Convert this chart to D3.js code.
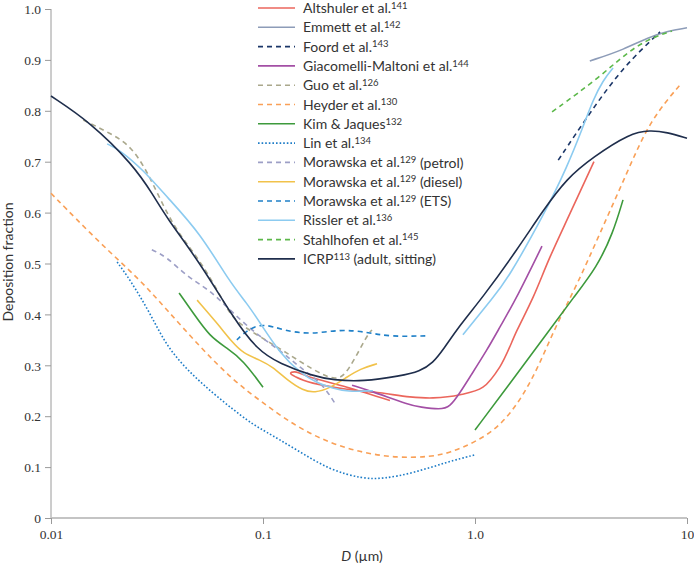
<!DOCTYPE html>
<html>
<head>
<meta charset="utf-8">
<script src="https://cdn.jsdelivr.net/npm/d3@7"></script>
<style>
  body { margin: 0; background: #fff; }
  svg { display: block; }
  .tick-label { font-family: "Liberation Serif", serif; font-size: 13.5px; fill: #333; }
  .legend text, .axis-title { font-family: Lato, "Open Sans", sans-serif; font-size: 14px; fill: #333; }
</style>
</head>
<body>
<svg id="svg"></svg>
<script>

const width = 694;
const height = 566;

// [diameter in µm, deposition fraction]
const altshuler = [[0.397,0.231],[0.249,0.257],[0.172,0.275],[0.141,0.287],[0.135,0.284],[0.143,0.277],[0.172,0.265],[0.249,0.253],[0.356,0.246],[0.493,0.238],[0.634,0.236],[0.849,0.242],[1.09,0.257],[1.31,0.297],[1.58,0.369],[1.88,0.434],[2.26,0.513],[2.81,0.599],[3.64,0.70]];
const emmett = [[3.48,0.898],[4.99,0.919],[7.2,0.953],[10,0.963]];
const foord = [[2.47,0.703],[3.48,0.796],[4.99,0.886],[7.46,0.955]];
const giacomelli = [[0.263,0.261],[0.33,0.248],[0.493,0.222],[0.55,0.218],[0.684,0.213],[0.762,0.218],[0.849,0.246],[0.946,0.277],[1.14,0.33],[1.31,0.375],[1.58,0.434],[2.07,0.534]];
const guo = [[0.0142,0.782],[0.019,0.756],[0.0244,0.729],[0.0303,0.658],[0.0376,0.572],[0.0505,0.507],[0.0647,0.428],[0.072,0.389],[0.097,0.356],[0.13,0.324],[0.172,0.291],[0.223,0.268],[0.252,0.287],[0.313,0.363],[0.327,0.369]];
const heyder = [[0.01,0.638],[0.017,0.54],[0.0263,0.468],[0.0352,0.409],[0.0505,0.336],[0.072,0.271],[0.1,0.226],[0.144,0.179],[0.207,0.147],[0.296,0.128],[0.428,0.118],[0.614,0.12],[0.762,0.128],[1.0,0.149],[1.31,0.179],[1.68,0.238],[2.03,0.305],[2.44,0.383],[3.03,0.458],[3.89,0.56],[5.21,0.678],[6.69,0.782],[9.46,0.855]];
const kimJaques1 = [[0.0402,0.442],[0.0468,0.403],[0.0562,0.356],[0.0676,0.334],[0.0806,0.31],[0.1,0.257]];
const kimJaques2 = [[1.0,0.173],[1.58,0.283],[2.26,0.371],[2.9,0.432],[3.76,0.493],[4.48,0.56],[4.99,0.625]];
const lin = [[0.0205,0.503],[0.0236,0.468],[0.0293,0.403],[0.0352,0.336],[0.0453,0.285],[0.0607,0.238],[0.0869,0.187],[0.1,0.173],[0.144,0.134],[0.207,0.094],[0.296,0.077],[0.368,0.077],[0.51,0.088],[0.738,0.11],[1.0,0.124]];
const morawskaPetrol = [[0.0299,0.527],[0.0352,0.513],[0.0438,0.474],[0.0562,0.448],[0.072,0.403],[0.0938,0.36],[0.12,0.33],[0.15,0.295],[0.19,0.265],[0.221,0.222]];
const morawskaDiesel = [[0.0489,0.428],[0.0607,0.383],[0.072,0.344],[0.0805,0.324],[0.097,0.31],[0.111,0.297],[0.13,0.271],[0.155,0.25],[0.175,0.246],[0.207,0.255],[0.249,0.277],[0.287,0.293],[0.345,0.303]];
const morawskaETS = [[0.0753,0.35],[0.084,0.369],[0.1,0.383],[0.124,0.369],[0.167,0.36],[0.231,0.371],[0.31,0.365],[0.397,0.356],[0.594,0.358]];
const rissler1 = [[0.0184,0.735],[0.0211,0.723],[0.0272,0.684],[0.0352,0.631],[0.0505,0.56],[0.07,0.462],[0.084,0.422],[0.097,0.383],[0.12,0.324],[0.15,0.285],[0.18,0.265],[0.214,0.255],[0.249,0.248],[0.33,0.25]];
const rissler2 = [[0.877,0.36],[1.22,0.434],[1.42,0.468],[2.14,0.6],[2.72,0.69],[3.23,0.768],[3.6,0.821],[4.02,0.86],[4.48,0.884]];
const stahlhofen = [[2.31,0.798],[3.89,0.866],[5.81,0.933],[8.49,0.957]];
const icrp = [[0.01,0.829],[0.0153,0.778],[0.0244,0.694],[0.0303,0.635],[0.0352,0.589],[0.0505,0.501],[0.072,0.395],[0.0938,0.33],[0.12,0.303],[0.172,0.279],[0.214,0.271],[0.296,0.268],[0.444,0.279],[0.55,0.288],[0.634,0.305],[0.706,0.33],[0.849,0.379],[1.09,0.434],[1.58,0.527],[2.1,0.605],[2.72,0.668],[3.6,0.709],[5.38,0.756],[6.69,0.762],[8.05,0.758],[10,0.746]];

const xTicks = [0.01, 0.1, 1, 10];
const xTickLabels = ["0.01", "0.1", "1.0", "10"];
const yTicks = [0, 0.1, 0.2, 0.3, 0.4, 0.5, 0.6, 0.7, 0.8, 0.9, 1.0];
const yTickLabels = ["0", "0.1", "0.2", "0.3", "0.4", "0.5", "0.6", "0.7", "0.8", "0.9", "1.0"];

// legend: name, superscript ref, suffix
const legendNames = ["Altshuler et al.", "Emmett et al.", "Foord et al.", "Giacomelli-Maltoni et al.", "Guo et al.", "Heyder et al.", "Kim & Jaques", "Lin et al.", "Morawska et al.", "Morawska et al.", "Morawska et al.", "Rissler et al.", "Stahlhofen et al.", "ICRP"];
const legendRefs = ["141", "142", "143", "144", "126", "130", "132", "134", "129", "129", "129", "136", "145", "113"];
const legendSuffix = ["", "", "", "", "", "", "", "", " (petrol)", " (diesel)", " (ETS)", "", "", " (adult, sitting)"];

const colors = ["#eb665c", "#8d9cb8", "#1b3668", "#a34fa5", "#aaa88c", "#f9a057", "#3d9a3c", "#1d7cc7", "#9d9fc6", "#f1c24a", "#1f80c8", "#8ccbf0", "#5cb84a", "#1f2e4c"];
const dashes = [null, null, "5,4", null, "5,4", "5,4", null, "1.6,2", "5,4", null, "5,4", null, "5,4", null];

// which series belongs to which legend entry
const series = [
	{ data: altshuler, k: 0, loop: true },
	{ data: emmett, k: 1 },
	{ data: foord, k: 2 },
	{ data: giacomelli, k: 3 },
	{ data: guo, k: 4 },
	{ data: heyder, k: 5 },
	{ data: kimJaques1, k: 6 },
	{ data: kimJaques2, k: 6 },
	{ data: lin, k: 7 },
	{ data: morawskaPetrol, k: 8 },
	{ data: morawskaDiesel, k: 9 },
	{ data: morawskaETS, k: 10 },
	{ data: rissler1, k: 11 },
	{ data: rissler2, k: 11 },
	{ data: stahlhofen, k: 12 },
	{ data: icrp, k: 13 }
];

const svg = d3.select("#svg")
			.attr("width", width)
			.attr("height", height);

const x = d3.scaleLog().domain([0.01, 10]).range([51, 687]);
const y = d3.scaleLinear().domain([0, 1]).range([518, 9]);

// axes
const yAxis = svg.append("g").attr("transform", "translate(51,0)")
	.call(d3.axisLeft(y).tickValues(yTicks).tickSize(6).tickFormat((d, i) => yTickLabels[i]));
yAxis.select(".domain").attr("stroke", "#9a9a9a").attr("d", `M0,${y(1)}V${y(0)}`);
yAxis.selectAll(".tick line").attr("stroke", "#9a9a9a");
yAxis.selectAll(".tick text").attr("class", "tick-label").attr("x", -10).attr("dy", "0.35em");

const xAxis = svg.append("g").attr("transform", "translate(0,518)")
	.call(d3.axisBottom(x).tickValues(xTicks).tickSize(6).tickFormat((d, i) => xTickLabels[i]));
xAxis.select(".domain").attr("stroke", "#c4c4c4").attr("stroke-width", 2.2).attr("d", `M${x(0.01)},0H${x(10)}`);
xAxis.selectAll(".tick line").attr("stroke", "#9a9a9a");
xAxis.selectAll(".tick text").attr("class", "tick-label").attr("y", 11).attr("dy", "0.71em");
xAxis.selectAll("text").attr("font-family", null).attr("font-size", null);
yAxis.selectAll("text").attr("font-family", null).attr("font-size", null);

svg.append("text")
	.attr("class", "axis-title")
	.attr("transform", "translate(13,262) rotate(-90)")
	.attr("text-anchor", "middle")
	.text("Deposition fraction");

const xt = svg.append("text")
	.attr("class", "axis-title")
	.attr("x", 362).attr("y", 561)
	.attr("text-anchor", "middle");
xt.append("tspan").attr("font-style", "italic").text("D");
xt.append("tspan").text(" (µm)");

// curves
const line = d3.line()
	.x(d => x(d[0]))
	.y(d => y(d[1]))
	.curve(d3.curveBasis);

const loopLine = d3.line()
	.x(d => x(d[0]))
	.y(d => y(d[1]))
	.curve(d3.curveCatmullRom.alpha(0.5));

svg.append("g").selectAll("path")
	.data(series)
	.enter().append("path")
	.attr("d", d => d.loop ? loopLine(d.data) : line(d.data))
	.attr("fill", "none")
	.attr("stroke", d => colors[d.k])
	.attr("stroke-width", 1.6)
	.attr("stroke-dasharray", d => dashes[d.k]);

// legend
const legend = svg.append("g").attr("class", "legend");
const rows = legend.selectAll("g")
	.data(legendNames)
	.enter().append("g")
	.attr("transform", (d, i) => `translate(0,${8 + i * 19.3})`);

rows.append("line")
	.attr("x1", 258).attr("x2", 295)
	.attr("stroke", (d, i) => colors[i])
	.attr("stroke-width", 1.6)
	.attr("stroke-dasharray", (d, i) => dashes[i]);

const label = rows.append("text")
	.attr("x", 303)
	.attr("dy", "0.36em");
label.append("tspan").text(d => d);
label.append("tspan")
	.attr("font-size", "9.5px")
	.attr("dy", "-0.45em")
	.text((d, i) => legendRefs[i]);
label.append("tspan")
	.attr("dy", "0.315em")
	.text((d, i) => legendSuffix[i]);

</script>
</body>
</html>
